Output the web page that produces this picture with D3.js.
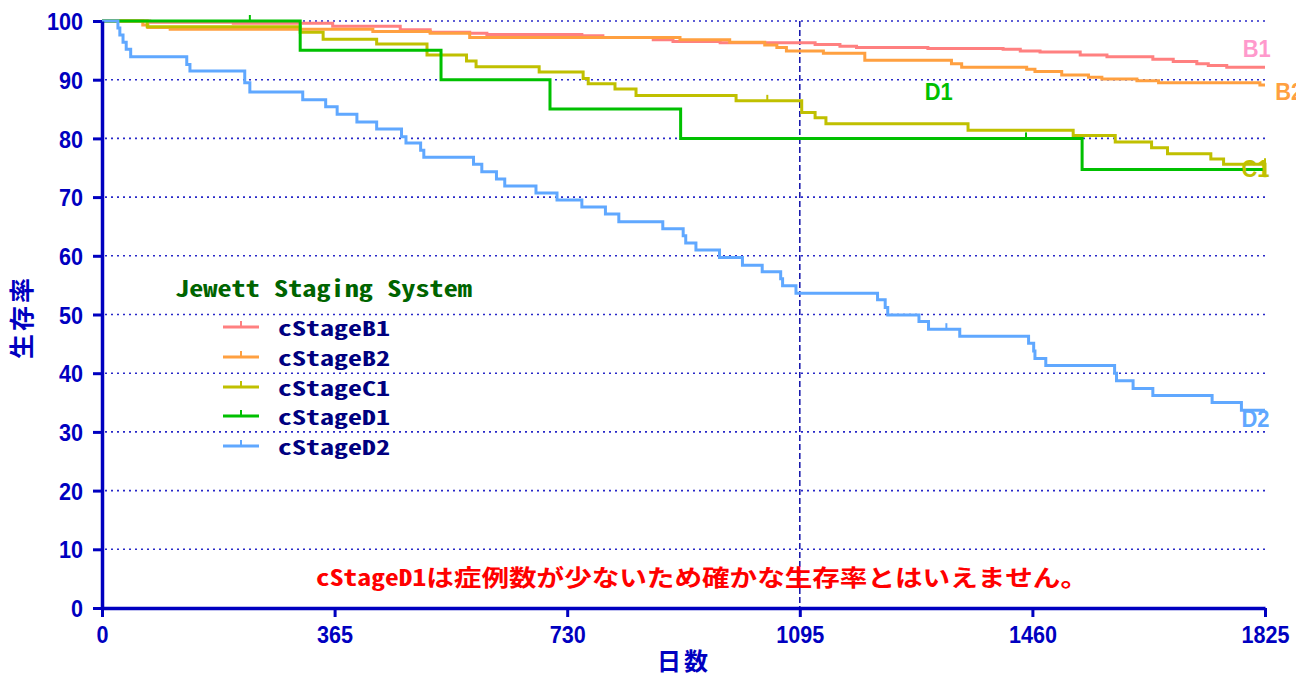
<!DOCTYPE html>
<html>
<head>
<meta charset="utf-8">
<script src="https://cdn.jsdelivr.net/npm/d3@7"></script>
<style>
html,body{margin:0;padding:0;background:#fff;}
svg{display:block;}
</style>
</head>
<body>
<script>
// ---- data ----
const seriesNames = ["cStageB1","cStageB2","cStageC1","cStageD1","cStageD2"];
const endLabels = ["B1","B2","C1","D1","D2"];
const yTicks = [0,10,20,30,40,50,60,70,80,90,100];
const xTicks = [0,365,730,1095,1460,1825];

const b1Days = [0,75,206,362,468,515,577,604,753,786,865,896,970,1119,1158,1184,1296,1414,1441,1472,1535,1577,1649,1681,1718,1736,1765,1825];
const b1Surv = [100,99.8,99.6,99.1,98.5,98.1,97.9,97.7,97.5,97.2,96.8,96.5,96.3,96.0,95.7,95.5,95.3,95.2,94.9,94.7,94.2,93.9,93.5,93.1,92.7,92.4,92.1,92.1];

const b2Days = [0,64,72,107,425,515,577,907,985,1040,1059,1074,1132,1197,1333,1349,1451,1464,1506,1548,1569,1624,1658,1817,1825];
const b2Surv = [100,99.3,98.9,98.6,98.2,97.9,97.2,96.8,96.4,95.9,95.5,94.9,94.5,93.3,92.7,92.1,91.8,91.4,90.8,90.4,90.1,89.8,89.5,89.1,89.1];

const c1Days = [0,71,311,347,431,510,572,587,686,755,763,805,838,995,1098,1119,1136,1359,1524,1590,1647,1672,1740,1760,1825];
const c1Surv = [100,99.0,98.1,96.9,96.1,94.2,93.2,92.2,91.3,90.2,89.3,88.4,87.3,86.4,84.4,83.5,82.5,81.4,80.5,79.4,78.4,77.4,76.5,75.6,73.4];

const d1Days = [0,311,532,703,908,1538,1825];
const d1Surv = [100,95,90,85,80,74.7,74.7];

const d2Days = [0,25,28,33,38,45,133,138,224,232,315,351,369,400,431,470,477,500,505,583,596,619,632,681,714,753,790,811,880,912,916,932,969,1005,1036,1065,1068,1089,1217,1229,1233,1282,1297,1346,1454,1462,1464,1481,1589,1592,1618,1649,1742,1788,1825];
const d2Surv = [100,98.8,97.6,96.4,95.2,93.9,92.6,91.5,89.5,87.9,86.6,85.4,84.1,82.8,81.6,80.3,79.2,78.0,76.8,75.6,74.3,73.1,71.9,70.7,69.5,68.3,67.1,65.8,64.6,63.4,62.2,61.0,59.7,58.4,57.3,56.1,54.9,53.6,52.5,51.2,49.9,48.8,47.5,46.3,45.1,43.8,42.5,41.3,40.0,38.7,37.4,36.2,35.0,33.7,33.7];

// censored observations [day, survival]
const b1Cens = [];
const b2Cens = [];
const c1Cens = [[1044,86.4],[1825,75.6]];
const d1Cens = [[232,100],[1450,80]];
const d2Cens = [[1325,47.5]];

// where the curve-end labels sit (day, survival) in data units
const endLabelDays = [1790,1841,1788,1291,1788];
const endLabelSurv = [93.9,86.5,73.5,86.5,30.9];

const colors = ["#ff8080","#ffa040","#c0c000","#00c000","#60a8ff"];
const labelColors = ["#ff99cc","#ffa040","#c0c000","#00c000","#60a8ff"];

const title = "Jewett Staging System";
const note = "cStageD1は症例数が少ないため確かな生存率とはいえません。";
const yTitle = "生存率";
const xTitle = "日数";

// ---- chart ----
const W = 1296, H = 676;
const svg = d3.select("body").append("svg").attr("width", W).attr("height", H);
const x = d3.scaleLinear().domain([0,1825]).range([102,1265]);
const y = d3.scaleLinear().domain([0,100]).range([608,21]);
const axisColor = "#0000c0";
const numFont = "'Liberation Sans', Arial, sans-serif";
const monoFont = "'Noto Sans Mono CJK JP','DejaVu Sans Mono','Noto Sans CJK JP',monospace";

// gridlines
svg.append("g").selectAll("line").data(yTicks.filter(v => v > 0)).join("line")
  .attr("x1", x(0) + 3).attr("x2", x(1825))
  .attr("y1", d => y(d)).attr("y2", d => y(d))
  .attr("stroke", "#2828c8").attr("stroke-width", 1.6)
  .attr("stroke-dasharray", "2,4");

// vertical reference line at 1095
svg.append("line")
  .attr("x1", x(1095)).attr("x2", x(1095))
  .attr("y1", y(100)).attr("y2", y(0))
  .attr("stroke", "#1010a8").attr("stroke-width", 1.5)
  .attr("stroke-dasharray", "6,3");

// curves
const series = [
  {days: b1Days, surv: b1Surv, cens: b1Cens},
  {days: b2Days, surv: b2Surv, cens: b2Cens},
  {days: c1Days, surv: c1Surv, cens: c1Cens},
  {days: d1Days, surv: d1Surv, cens: d1Cens},
  {days: d2Days, surv: d2Surv, cens: d2Cens}
];
const line = d3.line().x(d => x(d[0])).y(d => y(d[1])).curve(d3.curveStepAfter);
series.forEach((s, i) => {
  const pts = s.days.map((d, k) => [d, s.surv[k]]);
  const g = svg.append("g");
  g.append("path").attr("d", line(pts)).attr("fill", "none")
    .attr("stroke", colors[i]).attr("stroke-width", 3);
  g.selectAll("line").data(s.cens).join("line")
    .attr("x1", d => x(d[0])).attr("x2", d => x(d[0]))
    .attr("y1", d => y(d[1])).attr("y2", d => y(d[1]) - 6)
    .attr("stroke", colors[i]).attr("stroke-width", 2);
});

// axes
const yAxis = svg.append("g").attr("transform", `translate(${x(0)},0)`)
  .call(d3.axisLeft(y).tickValues(yTicks).tickFormat(d3.format("d")).tickSize(9).tickSizeOuter(0).tickPadding(10));
const xAxis = svg.append("g").attr("transform", `translate(0,${y(0)})`)
  .call(d3.axisBottom(x).tickValues(xTicks).tickFormat(d3.format("d")).tickSize(9).tickSizeOuter(0).tickPadding(9));
[yAxis, xAxis].forEach(g => {
  g.select(".domain").attr("stroke", axisColor).attr("stroke-width", 3.5);
  g.selectAll(".tick line").attr("stroke", axisColor).attr("stroke-width", 3);
  g.selectAll(".tick text")
    .attr("fill", axisColor)
    .style("font-family", numFont).style("font-weight", "bold").style("font-size", "24px")
    .attr("textLength", function(){ return this.textContent.length * 12; })
    .attr("lengthAdjust", "spacingAndGlyphs");
});
yAxis.selectAll(".tick text").attr("dy", "0.36em");
xAxis.selectAll(".tick text").attr("y", 18).attr("dy", "0.71em");

// axis titles
svg.append("text")
  .attr("transform", `translate(31,317) rotate(-90)`)
  .attr("text-anchor", "middle")
  .attr("fill", axisColor)
  .style("font-family", "'Noto Sans CJK JP', sans-serif").style("font-weight", "bold").style("font-size", "25px")
  .style("letter-spacing", "3px")
  .text(yTitle);
svg.append("text")
  .attr("x", 684).attr("y", 670)
  .attr("text-anchor", "middle")
  .attr("fill", axisColor)
  .style("font-family", "'Noto Sans CJK JP', sans-serif").style("font-weight", "bold").style("font-size", "24px")
  .style("letter-spacing", "3px")
  .text(xTitle);

// legend
svg.append("text")
  .attr("x", 175).attr("y", 297)
  .attr("fill", "#006400")
  .style("font-family", monoFont).style("font-weight", "bold").style("font-size", "23px")
  .attr("textLength", 297).attr("lengthAdjust", "spacingAndGlyphs")
  .text(title);
const legY = [327, 357, 387, 416, 446];
const leg = svg.append("g");
seriesNames.forEach((name, i) => {
  const ly = legY[i];
  leg.append("line").attr("x1", 223).attr("x2", 259).attr("y1", ly).attr("y2", ly)
    .attr("stroke", colors[i]).attr("stroke-width", 3);
  leg.append("line").attr("x1", 241).attr("x2", 241).attr("y1", ly).attr("y2", ly - 6)
    .attr("stroke", colors[i]).attr("stroke-width", 2);
  leg.append("text").attr("x", 278).attr("y", ly + 9)
    .attr("fill", "#000080")
    .style("font-family", monoFont).style("font-weight", "bold").style("font-size", "20px")
    .attr("textLength", 112).attr("lengthAdjust", "spacingAndGlyphs")
    .text(name);
});

// end labels
endLabels.forEach((t, i) => {
  svg.append("text").attr("x", x(endLabelDays[i])).attr("y", y(endLabelSurv[i]))
    .attr("fill", labelColors[i])
    .style("font-family", numFont).style("font-weight", "bold").style("font-size", "23px")
    .attr("textLength", 28).attr("lengthAdjust", "spacingAndGlyphs")
    .text(t);
});

// note
svg.append("text")
  .attr("x", 316).attr("y", 586)
  .attr("fill", "#ff0000")
  .style("font-family", monoFont).style("font-weight", "bold").style("font-size", "23px")
  .attr("textLength", 772).attr("lengthAdjust", "spacingAndGlyphs")
  .text(note);
</script>
</body>
</html>
